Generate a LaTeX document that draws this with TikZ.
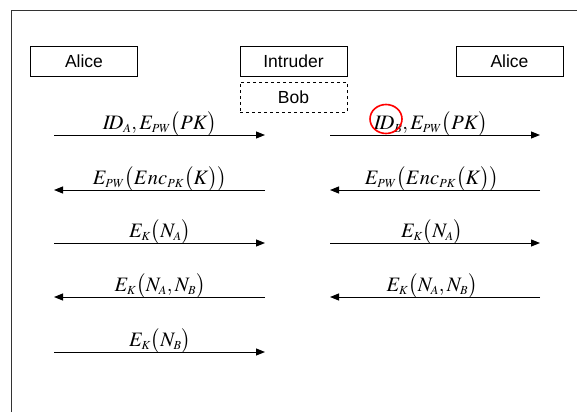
\documentclass[tikz,border=0pt]{standalone}
\usepackage{mathptmx}
\usepackage{fontspec}
\newfontfamily\arial{Liberation Sans}
\usetikzlibrary{arrows.meta}
\newcommand{\sbs}[1]{_{\scriptscriptstyle #1}}
\begin{document}
\begin{tikzpicture}[x=1pt,y=-1pt,
  party/.style={draw, line width=0.8pt, minimum width=107pt, minimum height=30pt, inner sep=0pt, font=\arial\fontsize{17.5}{20}\selectfont},
  msg/.style={line width=1pt, -{Triangle[length=9pt,width=7pt]}},
  lbl/.style={font=\fontsize{20.5}{24}\selectfont, inner sep=0pt, anchor=base}]
\useasboundingbox (0,0) rectangle (577,412);
\draw[line width=0.8pt, draw=black!80] (11,412) -- (11,10) -- (577,10);
\node[party] (alice1) at (84,61) {Alice};
\node[party] (intruder) at (293.5,61) {Intruder};
\node[party, dashed] (bob) at (293.5,97) {Bob};
\node[party] (alice2) at (509.5,61) {Alice};
% left column
\coordinate (l1) at (54,135); \coordinate (r1) at (265,135);
\coordinate (l2) at (54,190); \coordinate (r2) at (265,190);
\coordinate (l3) at (54,243); \coordinate (r3) at (265,243);
\coordinate (l4) at (54,297); \coordinate (r4) at (265,297);
\coordinate (l5) at (54,352); \coordinate (r5) at (265,352);
% right column
\coordinate (L1) at (330,135); \coordinate (R1) at (540,135);
\coordinate (L2) at (330,190); \coordinate (R2) at (540,190);
\coordinate (L3) at (330,243); \coordinate (R3) at (540,243);
\coordinate (L4) at (330,297); \coordinate (R4) at (540,297);
\draw[msg] (l1) -- (r1);
\draw[msg] (r2) -- (l2);
\draw[msg] (l3) -- (r3);
\draw[msg] (r4) -- (l4);
\draw[msg] (l5) -- (r5);
\draw[msg] (L1) -- (R1);
\draw[msg] (R2) -- (L2);
\draw[msg] (L3) -- (R3);
\draw[msg] (R4) -- (L4);
\node[lbl] (m1) at (160,129) {$I\!D\sbs{A}, E\sbs{PW}\bigl(PK\bigr)$};
\node[lbl] (m2) at (160,184) {$E\sbs{PW}\bigl(Enc\sbs{PK}\bigl(K\bigr)\bigr)$};
\node[lbl] (m3) at (160,237) {$E\sbs{K}\bigl(N\sbs{A}\bigr)$};
\node[lbl] (m4) at (160,291) {$E\sbs{K}\bigl(N\sbs{A}, N\sbs{B}\bigr)$};
\node[lbl] (m5) at (160,346) {$E\sbs{K}\bigl(N\sbs{B}\bigr)$};
\node[lbl] (n1) at (431,129) {$I\!D\sbs{B}, E\sbs{PW}\bigl(PK\bigr)$};
\node[lbl] (n2) at (432,184) {$E\sbs{PW}\bigl(Enc\sbs{PK}\bigl(K\bigr)\bigr)$};
\node[lbl] (n3) at (432,237) {$E\sbs{K}\bigl(N\sbs{A}\bigr)$};
\node[lbl] (n4) at (432,291) {$E\sbs{K}\bigl(N\sbs{A}, N\sbs{B}\bigr)$};
\draw[red, line width=1.6pt] (386,119) ellipse (16pt and 14.5pt);
\end{tikzpicture}
\end{document}
